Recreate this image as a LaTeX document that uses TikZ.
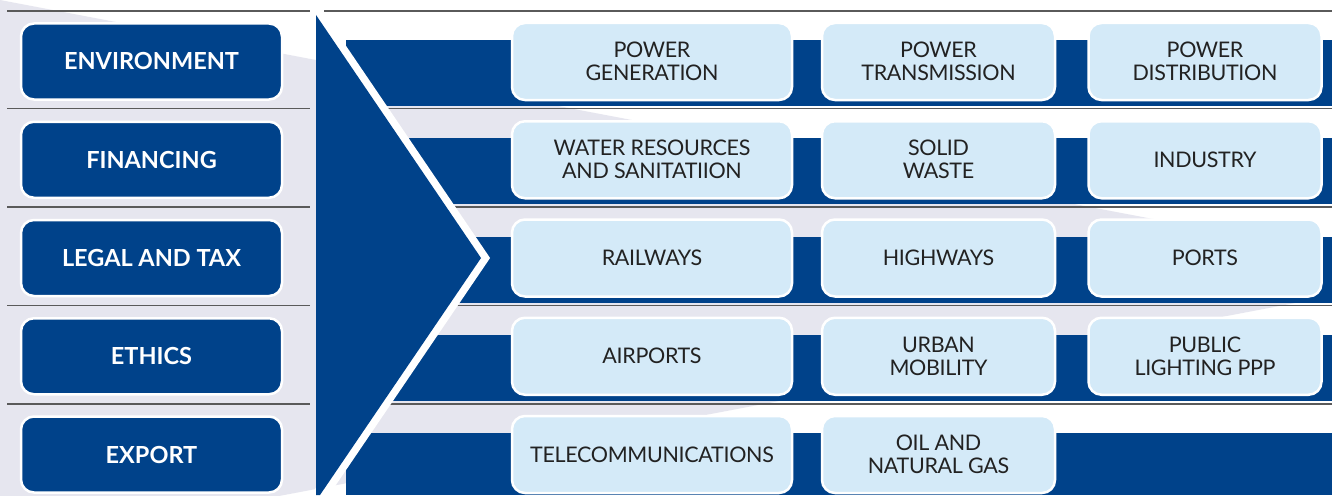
\documentclass[tikz,border=0pt]{standalone}
\usepackage{fontspec}
\setmainfont{Lato}
\newfontfamily\sectorfont[LetterSpace=-1.5]{Lato}
\definecolor{navy}{HTML}{00428A}
\definecolor{lightbox}{HTML}{D4EAF8}
\definecolor{lavender}{HTML}{E6E6EF}
\definecolor{sepgray}{HTML}{5A5A5A}
\definecolor{textdark}{HTML}{222222}
\tikzset{
  leftbox/.style={draw=white, line width=2.5pt, fill=navy, rounded corners=13pt,
    minimum width=261pt, minimum height=76pt, inner sep=0pt, text=white,
    font=\fontsize{23.5}{25}\selectfont\bfseries},
  sectorbox/.style={draw=white, line width=2.5pt, fill=lightbox, rounded corners=13pt,
    minimum height=77pt, inner sep=0pt, text=textdark, align=center,
    font=\sectorfont\fontsize{21.5}{23}\selectfont},
  wbox/.style={sectorbox, minimum width=280pt},
  nbox/.style={sectorbox, minimum width=233pt},
  sepline/.style={draw=sepgray, line width=1.5pt},
  band/.style={fill=navy}
}
\begin{document}
\begin{tikzpicture}[x=1pt,y=-1pt]
\useasboundingbox (0,0) rectangle (1332,495);
\fill[white] (0,0) rectangle (1332,495);
% lavender background wedge
\begin{scope}
  \clip (0,0) rectangle (1332,495);
  \fill[lavender] (0,0) -- (1332,253) -- (1332,296) -- (0,549) -- cycle;
\end{scope}
% separators
\foreach \yy in {11,108.5,207,305.5,404} {
  \draw[sepline] (7,\yy) -- (310,\yy);
  \draw[sepline] (324,\yy) -- (1332,\yy);
}
% row bands
\foreach \c in {61.5,159.75,258,356.25} {
  \fill[band] (346,\c-21.5) rectangle (1332,\c+44.5);
}
\fill[band] (346,433) rectangle (1332,495);
% chevron
\coordinate (ct) at (316,15);
\coordinate (cp) at (481,258);
\coordinate (cb) at (320,495);
\coordinate (cl) at (316,495);
\draw[white, line width=15pt, miter limit=10] (ct) -- (cp) -- (cb);
\fill[navy] (ct) -- (cp) -- (cb) -- (cl) -- cycle;
% left boxes
\node[leftbox] (env) at (151.5,61.5) {ENVIRONMENT};
\node[leftbox] (fin) at (151.5,159.75) {FINANCING};
\node[leftbox] (leg) at (151.5,258) {LEGAL AND TAX};
\node[leftbox] (eth) at (151.5,356.25) {ETHICS};
\node[leftbox] (exp) at (151.5,454.5) {EXPORT};
% sector boxes
\node[wbox] (pg) at (652,61.5) {POWER\\GENERATION};
\node[nbox] (pt) at (938.5,61.5) {POWER\\TRANSMISSION};
\node[nbox] (pd) at (1205,61.5) {POWER\\DISTRIBUTION};
\node[wbox] (wr) at (652,159.75) {WATER RESOURCES\\AND SANITATIION};
\node[nbox] (sw) at (938.5,159.75) {SOLID\\WASTE};
\node[nbox] (ind) at (1205,159.75) {INDUSTRY};
\node[wbox] (rail) at (652,258) {RAILWAYS};
\node[nbox] (hw) at (938.5,258) {HIGHWAYS};
\node[nbox] (ports) at (1205,258) {PORTS};
\node[wbox] (air) at (652,356.25) {AIRPORTS};
\node[nbox] (um) at (938.5,356.25) {URBAN\\MOBILITY};
\node[nbox] (pl) at (1205,356.25) {PUBLIC\\LIGHTING PPP};
\node[wbox] (tel) at (652,454.5) {TELECOMMUNICATIONS};
\node[nbox] (oil) at (938.5,454.5) {OIL AND\\NATURAL GAS};
\end{tikzpicture}
\end{document}
